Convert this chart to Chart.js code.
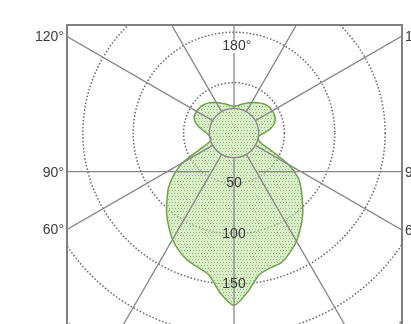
<!DOCTYPE html>
<html>
<head>
<meta charset="utf-8">
<script src="https://cdn.jsdelivr.net/npm/chart.js@4.4.1/dist/chart.umd.min.js"></script>
<style>
  html, body { margin: 0; padding: 0; width: 411px; height: 324px; overflow: hidden; background: #fff; }
  #plot { position: absolute; left: -18px; top: -119px; }
</style>
</head>
<body>
<canvas id="plot" width="504" height="504"></canvas>
<script>
// Luminous intensity distribution, gamma measured from the nadir (0°) to the zenith (180°)
const gammaAngles = [0, 5, 10, 15, 20, 25, 30, 35, 40, 45, 50, 55, 60, 65, 70, 75, 80, 85, 90,
                     95, 100, 105, 110, 115, 120, 125, 130, 135, 140, 145, 150, 155, 160, 165, 170, 175, 180];
// left half-plane
const intensityLeft = [171, 159, 143, 138, 134.5, 129, 122, 113, 104, 94, 85, 73, 59, 36, 26, 23.5, 24, 25, 27,
                       31, 35.5, 39.5, 42, 43, 43, 42.5, 42, 40.5, 39, 37, 35, 33, 31, 29.5, 28, 27, 26.3];
// right half-plane
const intensityRight = [171, 158, 143, 138.5, 137, 131, 124, 115, 106, 96, 87, 78, 62, 40, 28, 25, 24.5, 26, 30,
                        35, 39, 42, 43.5, 44, 44, 43.5, 42.5, 41, 39, 37, 35, 33, 31, 29.5, 28, 27, 26.3];

// radial axis
const radiusMax = 250;
const radiusStep = 50;
const innerRing = 24.5;            // solid reference ring; guide lines start here
// angular guide lines and their captions
const guideAngles = [0, 30, 60, 90, 120, 150, 180];
const sideCaptionAngles = [120, 90, 60];
const topCaption = '180°';
const topCaptionRadius = 86;
const horizonDrop = 38.4;          // the 90° guide sits a little below the centre

const LINE_GRAY = 'rgb(136,136,136)';
const FRAME_GRAY = 'rgb(128,128,128)';
const TEXT_COLOR = '#3b3b3b';
const FONT = '14px "Liberation Sans", Arial, sans-serif';

const canvas = document.getElementById('plot');
// frame rectangle in page coordinates, converted to canvas coordinates
const FRAME_PAGE = { left: 67, top: 25, right: 402, bottom: 345 };
const frame = {
  left: FRAME_PAGE.left - canvas.offsetLeft,
  top: FRAME_PAGE.top - canvas.offsetTop,
  right: FRAME_PAGE.right - canvas.offsetLeft,
  bottom: FRAME_PAGE.bottom - canvas.offsetTop
};

// one closed loop: left half from nadir to zenith, then the right half back down
const labels = [];
const values = [];
for (let i = 0; i < gammaAngles.length; i++) {
  labels.push(gammaAngles[i] + '°');
  values.push(intensityLeft[i]);
}
for (let i = gammaAngles.length - 2; i >= 1; i--) {
  labels.push(gammaAngles[i] + '°');
  values.push(intensityRight[i]);
}

function indexFor(theta, side) {
  const n = labels.length;
  const k = Math.round(theta / (360 / n));
  return side < 0 ? k % n : (n - k) % n;
}

// stippled green fill
function dotPattern() {
  const c = document.createElement('canvas');
  c.width = 3; c.height = 6;
  const g = c.getContext('2d');
  g.fillStyle = 'rgba(196,226,168,0.62)';
  g.fillRect(0, 0, 3, 6);
  g.fillStyle = 'rgba(120,168,90,0.75)';
  g.fillRect(0, 0, 1, 1);
  g.fillRect(1, 3, 1, 1);
  return g.createPattern(c, 'repeat');
}

const polarDecor = {
  id: 'polarDecor',
  beforeDraw(chart) {
    const ctx = chart.ctx;
    ctx.save();
    ctx.beginPath();
    ctx.rect(frame.left, frame.top, frame.right - frame.left, frame.bottom - frame.top);
    ctx.clip();
  },
  afterDatasetsDraw(chart) {
    const ctx = chart.ctx;
    const sc = chart.scales.r;
    const xc = sc.xCenter, yc = sc.yCenter;
    const rIn = sc.getDistanceFromCenterForValue(innerRing);
    const rOut = sc.drawingArea;
    ctx.save();
    ctx.strokeStyle = LINE_GRAY;
    ctx.lineWidth = 1.3;
    // radial guides
    const done = new Set();
    ctx.beginPath();
    for (const a of guideAngles) {
      if (a === 90) continue;
      for (const s of [-1, 1]) {
        const idx = indexFor(a, s);
        if (done.has(idx)) continue;
        done.add(idx);
        const p0 = sc.getPointPosition(idx, rIn);
        const p1 = sc.getPointPosition(idx, rOut);
        ctx.moveTo(p0.x, p0.y);
        ctx.lineTo(p1.x, p1.y);
      }
    }
    // horizontal 90° guide
    const yH = yc + sc.getDistanceFromCenterForValue(horizonDrop);
    ctx.moveTo(frame.left, yH); ctx.lineTo(xc - rIn, yH);
    ctx.moveTo(xc + rIn, yH); ctx.lineTo(frame.right, yH);
    ctx.stroke();
    // inner ring
    ctx.beginPath();
    ctx.arc(xc, yc, rIn, 0, Math.PI * 2);
    ctx.stroke();

    // radial tick labels along the nadir
    ctx.font = FONT;
    ctx.fillStyle = TEXT_COLOR;
    ctx.textAlign = 'center';
    ctx.textBaseline = 'middle';
    for (const t of sc.ticks) {
      if (t.value <= 0) continue;
      ctx.fillText(t.label, xc, yc + sc.getDistanceFromCenterForValue(t.value));
    }
    // zenith caption on a white box
    const yT = yc - sc.getDistanceFromCenterForValue(topCaptionRadius);
    const wNum = ctx.measureText(topCaption.replace('°', '')).width;
    const wAll = ctx.measureText(topCaption).width;
    const xT = xc - wNum / 2;
    ctx.fillStyle = '#fff';
    ctx.fillRect(xT - 1, yT - 6.5, wAll + 2, 13);
    ctx.fillStyle = TEXT_COLOR;
    ctx.textAlign = 'left';
    ctx.fillText(topCaption, xT, yT);
    ctx.restore();
  },
  afterDraw(chart) {
    const ctx = chart.ctx;
    ctx.restore();
    const sc = chart.scales.r;
    const xc = sc.xCenter, yc = sc.yCenter;
    ctx.save();
    ctx.strokeStyle = FRAME_GRAY;
    ctx.lineWidth = 2;
    ctx.strokeRect(frame.left, frame.top, frame.right - frame.left, frame.bottom - frame.top);
    ctx.font = FONT;
    ctx.fillStyle = TEXT_COLOR;
    ctx.textBaseline = 'middle';
    for (const s of [-1, 1]) {
      const xEdge = s < 0 ? frame.left : frame.right;
      ctx.textAlign = s < 0 ? 'right' : 'left';
      for (const a of sideCaptionAngles) {
        let y;
        if (a === 90) {
          y = yc + sc.getDistanceFromCenterForValue(horizonDrop);
        } else {
          const p = sc.getPointPosition(indexFor(a, s), 100);
          y = yc + (p.y - yc) * (xEdge - xc) / (p.x - xc);
        }
        ctx.fillText(a + '°', xEdge + s * 3, y + 1);
      }
    }
    ctx.restore();
  }
};

new Chart(canvas, {
  type: 'radar',
  data: {
    labels: labels,
    datasets: [{
      data: values,
      fill: true,
      backgroundColor: dotPattern(),
      borderColor: 'rgb(110,165,70)',
      borderWidth: 1.5,
      pointRadius: 0,
      tension: 0.25
    }]
  },
  options: {
    responsive: false,
    animation: false,
    events: [],
    plugins: { legend: { display: false }, tooltip: { enabled: false } },
    scales: {
      r: {
        startAngle: 180,
        min: 0,
        max: radiusMax,
        ticks: { stepSize: radiusStep, display: false },
        pointLabels: { display: false },
        angleLines: { display: false },
        grid: {
          circular: true,
          color: 'rgba(85,85,85,0.9)',
          lineWidth: 1.5,
          borderDash: [1.5, 2]
        },
        border: { dash: [1.5, 2] }
      }
    }
  },
  plugins: [polarDecor]
});
</script>
</body>
</html>
